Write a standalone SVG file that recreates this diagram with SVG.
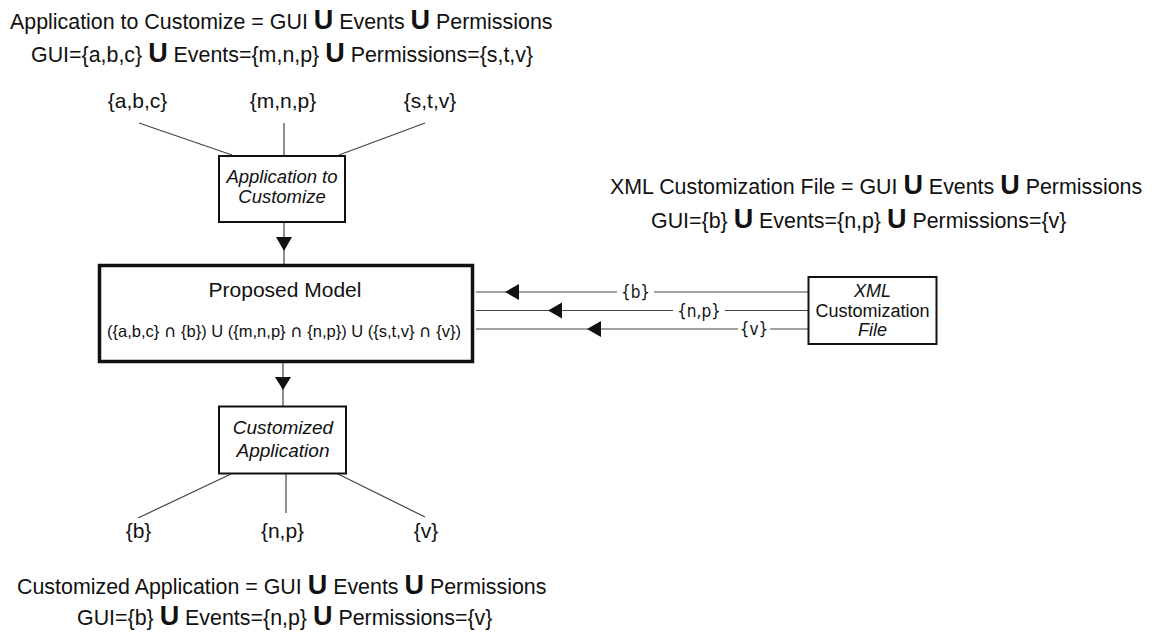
<svg xmlns="http://www.w3.org/2000/svg" width="1161" height="637" viewBox="0 0 1161 637">
<style>
text{font-family:"Liberation Sans",Arial,sans-serif;fill:#111}
.t{font-size:21.4px}
.u{font-size:27px;font-weight:bold}
.lbl{font-size:21px;text-anchor:middle}
.box{fill:#fff;stroke:#111;stroke-width:2}
.big{fill:#fff;stroke:#111;stroke-width:3.5}
.bl{font-size:18.5px;font-style:italic;text-anchor:middle}
.ln{stroke:#444;stroke-width:1.2;fill:none}
.el{font-family:"DejaVu Sans Condensed","DejaVu Sans",sans-serif;font-stretch:condensed;font-size:17px;text-anchor:middle}
.ah{fill:#111}
.cap{font-family:"DejaVu Sans",sans-serif;font-size:17px}
</style>
<g id="titles-top">
<text class="t" x="10" y="29">Application to Customize = GUI <tspan class="u">U</tspan> Events <tspan class="u">U</tspan> Permissions</text>
<text class="t" x="31" y="62">GUI={a,b,c} <tspan class="u">U</tspan> Events={m,n,p} <tspan class="u">U</tspan> Permissions={s,t,v}</text>
</g>
<g id="titles-xml">
<text class="t" x="610" y="194">XML Customization File = GUI <tspan class="u">U</tspan> Events <tspan class="u">U</tspan> Permissions</text>
<text class="t" x="651" y="228">GUI={b} <tspan class="u">U</tspan> Events={n,p} <tspan class="u">U</tspan> Permissions={v}</text>
</g>
<g id="titles-bottom">
<text class="t" x="17" y="594">Customized Application = GUI <tspan class="u">U</tspan> Events <tspan class="u">U</tspan> Permissions</text>
<text class="t" x="77" y="625">GUI={b} <tspan class="u">U</tspan> Events={n,p} <tspan class="u">U</tspan> Permissions={v}</text>
</g>
<g id="connectors">
<line class="ln" x1="139" y1="123" x2="232" y2="155"/>
<line class="ln" x1="284" y1="123" x2="284" y2="155"/>
<line class="ln" x1="425" y1="123" x2="339" y2="155"/>
<line class="ln" x1="284" y1="223" x2="284" y2="264"/>
<polygon class="ah" points="276,237 292,237 284,251"/>
<line class="ln" x1="283" y1="363" x2="283" y2="406"/>
<polygon class="ah" points="275,377 291,377 283,390"/>
<line class="ln" x1="231" y1="474" x2="138" y2="518"/>
<line class="ln" x1="286" y1="474" x2="286" y2="513"/>
<line class="ln" x1="338" y1="474" x2="425" y2="517"/>
<line class="ln" x1="476" y1="292" x2="617" y2="292"/>
<line class="ln" x1="654" y1="292" x2="808" y2="292"/>
<line class="ln" x1="476" y1="310.5" x2="673" y2="310.5"/>
<line class="ln" x1="725" y1="310.5" x2="808" y2="310.5"/>
<line class="ln" x1="476" y1="329" x2="738" y2="329"/>
<line class="ln" x1="770" y1="329" x2="808" y2="329"/>
<polygon class="ah" points="505,292 519,284 519,300"/>
<polygon class="ah" points="548,310.5 562,302.5 562,318.5"/>
<polygon class="ah" points="587,329 601,321 601,337"/>
<text class="el" x="635.5" y="298">{b}</text>
<text class="el" x="699" y="316.5">{n,p}</text>
<text class="el" x="754" y="335">{v}</text>
</g>
<g id="labels-top">
<text class="lbl" x="137.5" y="108">{a,b,c}</text>
<text class="lbl" x="283" y="108">{m,n,p}</text>
<text class="lbl" x="430" y="108">{s,t,v}</text>
</g>
<g id="labels-bottom">
<text class="lbl" x="138.5" y="538">{b}</text>
<text class="lbl" x="282.5" y="538">{n,p}</text>
<text class="lbl" x="426" y="538">{v}</text>
</g>
<g id="node-app">
<rect class="box" x="219" y="156" width="126" height="66"/>
<text class="bl" x="282" y="183">Application to</text>
<text class="bl" x="282" y="203">Customize</text>
</g>
<g id="node-model">
<rect class="big" x="99.5" y="265.5" width="373" height="96"/>
<text x="285" y="297" style="font-size:21px;text-anchor:middle">Proposed Model</text>
<text x="284" y="337" style="font-size:16.5px;text-anchor:middle">({a,b,c}  <tspan class="cap">∩</tspan> {b}) U ({m,n,p}  <tspan class="cap">∩</tspan> {n,p}) U ({s,t,v}  <tspan class="cap">∩</tspan> {v})</text>
</g>
<g id="node-custom">
<rect class="box" x="219" y="406.5" width="127" height="67"/>
<text class="bl" x="283" y="434" style="font-size:19px">Customized</text>
<text class="bl" x="283" y="457" style="font-size:19px">Application</text>
</g>
<g id="node-xml">
<rect class="box" x="808.5" y="277" width="128" height="67"/>
<text x="872.5" y="297" style="font-size:18px;font-style:italic;text-anchor:middle">XML</text>
<text x="872.5" y="317" style="font-size:18px;text-anchor:middle">Customization</text>
<text x="872.5" y="336" style="font-size:18px;font-style:italic;text-anchor:middle">File</text>
</g>
</svg>
